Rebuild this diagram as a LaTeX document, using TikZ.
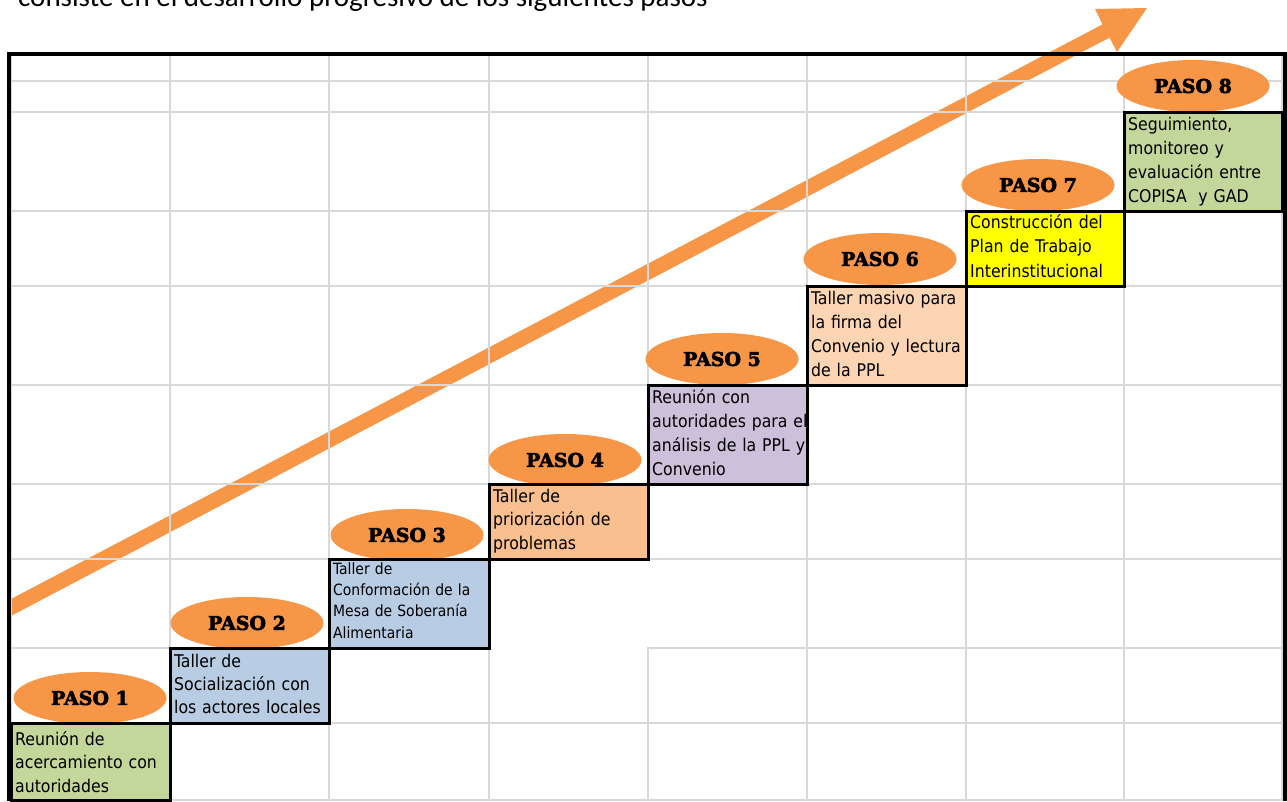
\documentclass[tikz,border=0pt]{standalone}
\usepackage{fontspec}
\usetikzlibrary{shapes.geometric}
\newfontfamily\boxfamily{DejaVu Sans Condensed}
\newfontfamily\pasofamily{DejaVu Serif}[BoldFeatures={FakeBold=3}]
\newfontfamily\topfamily{Carlito}
\definecolor{porange}{HTML}{F79646}
\definecolor{cgreen}{HTML}{C4D79B}
\definecolor{cblue}{HTML}{B8CCE4}
\definecolor{corange}{HTML}{FABF8F}
\definecolor{cpurple}{HTML}{CCC0DA}
\definecolor{cpeach}{HTML}{FCD5B4}
\definecolor{cyellow}{HTML}{FFFF00}
\definecolor{gridgray}{HTML}{D9D9D9}
\newcommand{\fr}[1]{\rule{0pt}{#1pt}}
\begin{document}
\begin{tikzpicture}[x=1pt,y=-1pt,
  gridline/.style={draw=gridgray, line width=1.5pt},
  frameline/.style={draw=black, line width=4pt},
  stepbox/.style={draw=black, line width=3pt, rectangle, inner sep=0pt, outer sep=0pt, anchor=north west},
  pasoel/.style={ellipse, fill=porange, inner sep=0pt, minimum width=153pt, minimum height=52pt,
    font=\pasofamily\bfseries\fontsize{19}{19}\selectfont},
  boxtext/.style={anchor=north west, inner sep=0pt, align=left, text width=158pt},
]
\useasboundingbox (0,0) rectangle (1287,801);

% title (partly cut off at the top)
\node[anchor=base west, inner sep=0pt, font=\topfamily\fontsize{29}{29}\selectfont] (title) at (18,6)
  {consiste en el desarrollo progresivo de los siguientes pasos};

% big arrow
\fill[porange] (12,598.5) -- (1102.5,24.4) -- (1095,9) -- (1147,8) -- (1117,52)
  -- (1109.5,37.6) -- (12,615.4) -- cycle;

% grid
\foreach \x in {11,170,329,489,648,807,966,1124,1282}
  \draw[gridline] (\x,56) -- (\x,801);
\foreach \y in {81,112,211,286,385,484,559,648,723,800}
  \draw[gridline] (11,\y) -- (1283,\y);
\fill[white] (489,559) rectangle (648.75,647.25);
\fill[white] (489,647.25) rectangle (647.25,648.75);

% frame
\draw[frameline] (9,801) -- (9,54) -- (1285,54) -- (1285,801);

% ellipses
\node[pasoel] (e1) at (90,698) {PASO 1};
\node[pasoel] (e2) at (247,623) {PASO 2};
\node[pasoel] (e3) at (407,535) {PASO 3};
\node[pasoel] (e4) at (565,460) {PASO 4};
\node[pasoel] (e5) at (722,359) {PASO 5};
\node[pasoel] (e6) at (880,259) {PASO 6};
\node[pasoel] (e7) at (1038,185) {PASO 7};
\node[pasoel] (e8) at (1193,86) {PASO 8};

% step boxes
\node[stepbox, fill=cgreen, minimum width=159pt, minimum height=77pt] (b1) at (11,723) {};
\node[stepbox, fill=cblue, minimum width=159pt, minimum height=75pt] (b2) at (170,648) {};
\node[stepbox, fill=cblue, minimum width=160pt, minimum height=89pt] (b3) at (329,559) {};
\node[stepbox, fill=corange, minimum width=159pt, minimum height=75pt] (b4) at (489,484) {};
\node[stepbox, fill=cpurple, minimum width=159pt, minimum height=99pt] (b5) at (648,385) {};
\node[stepbox, fill=cpeach, minimum width=159pt, minimum height=99pt] (b6) at (807,286) {};
\node[stepbox, fill=cyellow, minimum width=158pt, minimum height=75pt] (b7) at (966,211) {};
\node[stepbox, fill=cgreen, minimum width=158pt, minimum height=99pt] (b8) at (1124,112) {};

% texts
\node[boxtext, font=\boxfamily\fontsize{17.5}{23.5}\selectfont] (t1) at (15,730)
  {\fr{15}Reunión de\\acercamiento con\\autoridades};
\node[boxtext, font=\boxfamily\fontsize{17.5}{23}\selectfont] (t2) at (174,652)
  {\fr{15}Taller de\\Socialización con\\los actores locales};
\node[boxtext, font=\boxfamily\fontsize{15.5}{21.3}\selectfont] (t3) at (333,561)
  {\fr{13}Taller de\\Conformación de la\\Mesa de Soberanía\\Alimentaria};
\node[boxtext, font=\boxfamily\fontsize{17.5}{23.5}\selectfont] (t4) at (493,487)
  {\fr{15}Taller de\\priorización de\\problemas};
\node[boxtext, font=\boxfamily\fontsize{17.5}{24}\selectfont] (t5) at (652,388)
  {\fr{15}Reunión con\\autoridades para el\\análisis de la PPL y\\Convenio};
\node[boxtext, font=\boxfamily\fontsize{17.5}{24}\selectfont] (t6) at (811,289)
  {\fr{15}Taller masivo para\\la firma del\\Convenio y lectura\\de la PPL};
\node[boxtext, font=\boxfamily\fontsize{17.5}{24.5}\selectfont] (t7) at (970,213)
  {\fr{15}Construcción del\\Plan de Trabajo\\Interinstitucional};
\node[boxtext, font=\boxfamily\fontsize{17.5}{24}\selectfont] (t8) at (1128,115)
  {\fr{15}Seguimiento,\\monitoreo y\\evaluación entre\\COPISA\ \ y GAD};
\end{tikzpicture}
\end{document}
